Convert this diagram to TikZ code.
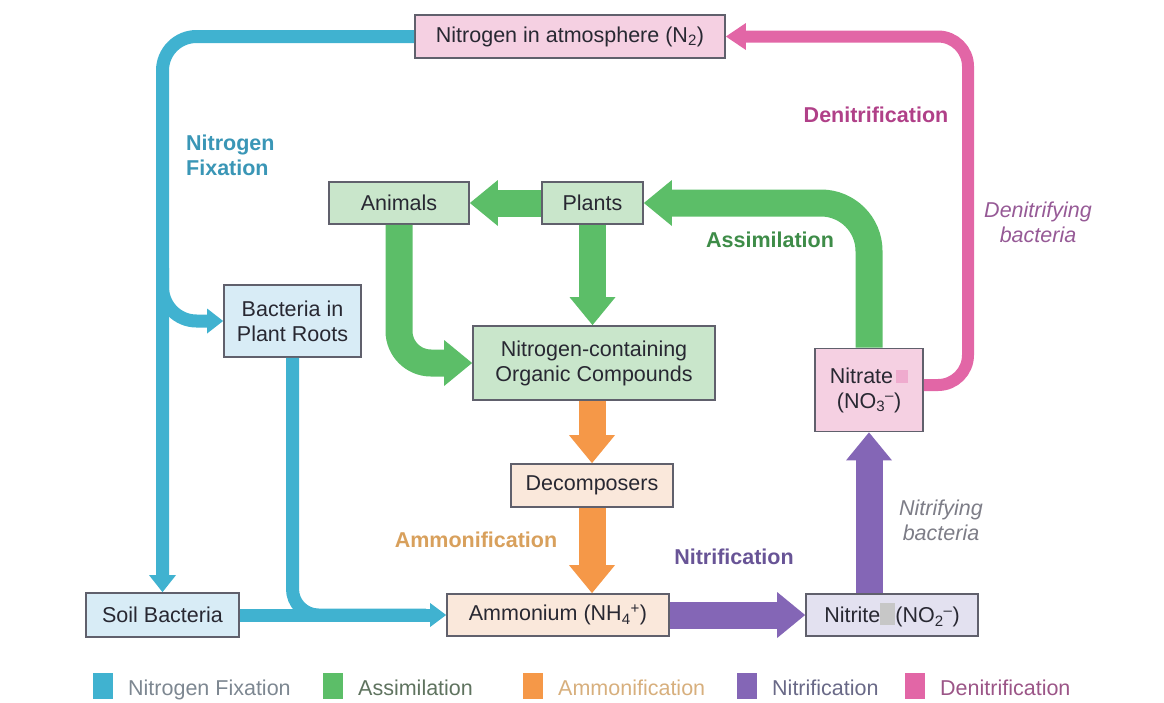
\documentclass[tikz,border=0pt]{standalone}
\usepackage{fontspec}
\setmainfont{Liberation Sans}
\usetikzlibrary{arrows.meta}
\definecolor{fixc}{RGB}{64,178,208}
\definecolor{assc}{RGB}{92,190,104}
\definecolor{ammc}{RGB}{245,152,72}
\definecolor{nitc}{RGB}{132,102,182}
\definecolor{denc}{RGB}{226,102,166}
\definecolor{pinkbox}{RGB}{245,208,226}
\definecolor{greenbox}{RGB}{201,230,203}
\definecolor{bluebox}{RGB}{216,236,246}
\definecolor{peachbox}{RGB}{250,232,219}
\definecolor{lilacbox}{RGB}{227,225,240}
\definecolor{boxline}{RGB}{96,96,108}
\definecolor{boxtxt}{RGB}{40,40,50}
\definecolor{fixlab}{RGB}{58,150,182}
\definecolor{denlab}{RGB}{176,64,136}
\definecolor{denital}{RGB}{150,90,150}
\definecolor{asslab}{RGB}{62,140,72}
\definecolor{ammlab}{RGB}{216,160,92}
\definecolor{nitlab}{RGB}{104,84,150}
\definecolor{nitital}{RGB}{125,125,135}
\definecolor{lgfix}{RGB}{125,135,145}
\definecolor{lgass}{RGB}{95,115,95}
\definecolor{lgamm}{RGB}{215,175,125}
\definecolor{lgnit}{RGB}{105,105,135}
\definecolor{lgden}{RGB}{155,85,135}
\begin{document}
\begin{tikzpicture}[x=1pt, y=-1pt, font=\fontsize{21.5}{25}\selectfont,
  box/.style={draw=boxline, line width=1.8pt, text=boxtxt, align=center, inner sep=0pt},
  fixline/.style={fixc, line width=13pt, rounded corners=34pt},
  denline/.style={denc, line width=12pt, rounded corners=30pt},
  bigarrow/.style={line width=27pt, rounded corners=42pt, -{Triangle[width=46pt, length=28pt, line width=0pt]}},
  lab/.style={font=\fontsize{21.5}{25}\selectfont\bfseries, inner sep=0pt, align=left},
  ital/.style={font=\fontsize{21.5}{25}\selectfont\itshape, inner sep=0pt, align=center}]
 \useasboundingbox (0,0) rectangle (1164,702);
 % boxes
 \node[box, fill=pinkbox, minimum width=310pt, minimum height=43pt] (n2) at (570,36.5) {Nitrogen in atmosphere (N\textsubscript{2})};
 \node[box, fill=greenbox, minimum width=140pt, minimum height=42pt] (animals) at (399,203) {Animals};
 \node[box, fill=greenbox, minimum width=101pt, minimum height=42pt] (plants) at (592.5,203) {Plants};
 \node[box, fill=bluebox, minimum width=137pt, minimum height=72pt] (roots) at (292.5,321) {Bacteria in\\Plant Roots};
 \node[box, fill=greenbox, minimum width=242pt, minimum height=74pt] (ncoc) at (594,363) {Nitrogen-containing\\Organic Compounds};
 \node[box, fill=pinkbox, minimum width=108pt, minimum height=83pt] (nitrate) at (869,390) {Nitrate\hspace{3pt}\textcolor{denc!55}{\rule{12pt}{13pt}}\\(NO\textsubscript{3}\textsuperscript{--})};
 \node[box, fill=peachbox, minimum width=162pt, minimum height=43pt] (decomp) at (592,485.5) {Decomposers};
 \node[box, fill=bluebox, minimum width=153pt, minimum height=44pt] (soil) at (162.5,615) {Soil Bacteria};
 \node[box, fill=peachbox, minimum width=222pt, minimum height=42pt] (ammon) at (558,615) {Ammonium (NH\textsubscript{4}\textsuperscript{+})};
 \node[box, fill=lilacbox, minimum width=172pt, minimum height=42pt] (nitrite) at (892,615) {Nitrite\textcolor{black!22}{\rule[-2pt]{15pt}{22pt}}(NO\textsubscript{2}\textsuperscript{--})};
 % nitrogen fixation
 \coordinate (fixsplit) at (162.5,268);
 \draw[fixline, -{Triangle[width=27pt, length=17pt, line width=0pt]}] (n2.west) -| (soil.north);
 \draw[fixline, -{Triangle[width=25pt, length=16pt, line width=0pt]}] (fixsplit) |- (roots.west);
 \draw[fixline, rounded corners=26pt, shorten >=20pt] (roots.south) |- (ammon.west);
 \draw[fixline, -{Triangle[width=24pt, length=16pt, line width=0pt]}] (soil.east) -- (ammon.west);
 % denitrification
 \coordinate (dencorner) at (968,36.5);
 \draw[denline, -{Triangle[width=27pt, length=20pt, line width=0pt]}] ([yshift=5pt]nitrate.east) -| (dencorner) -- (n2.east);
 % assimilation
 \draw[bigarrow, assc, rounded corners=48pt] (nitrate.north) |- (plants.east);
 \draw[bigarrow, assc] (plants.west) -- (animals.east);
 \draw[bigarrow, assc] (plants.south) -- (plants.south |- ncoc.north);
 \draw[bigarrow, assc, rounded corners=32pt] (animals.south) |- (ncoc.west);
 % ammonification
 \draw[bigarrow, ammc] (decomp.north |- ncoc.south) -- (decomp.north);
 \draw[bigarrow, ammc] (decomp.south) -- (decomp.south |- ammon.north);
 % nitrification
 \draw[bigarrow, nitc] (ammon.east) -- (nitrite.west);
 \draw[bigarrow, nitc] (nitrate.south |- nitrite.north) -- (nitrate.south);
 % labels
 \node[lab, text=fixlab, anchor=west] (fixlabel) at (186,155) {Nitrogen\\Fixation};
 \node[lab, text=denlab] (denlabel) at (876,115) {Denitrification};
 \node[ital, text=denital] (denbact) at (1038,222) {Denitrifying\\bacteria};
 \node[lab, text=asslab] (asslabel) at (770,240) {Assimilation};
 \node[lab, text=ammlab] (ammlabel) at (476,540) {Ammonification};
 \node[lab, text=nitlab] (nitlabel) at (734,557) {Nitrification};
 \node[ital, text=nitital] (nitbact) at (941,520) {Nitrifying\\bacteria};
 % legend
 \foreach \lx/\lc/\ltc/\lt in {93/fixc/lgfix/Nitrogen Fixation, 323/assc/lgass/Assimilation, 523/ammc/lgamm/Ammonification, 737/nitc/lgnit/Nitrification, 905/denc/lgden/Denitrification}{
   \fill[\lc] (\lx,673) rectangle ++(20,26);
   \node[anchor=base west, inner sep=0pt, text=\ltc] (leg\lx) at ({\lx+35},695) {\lt};
 }
\end{tikzpicture}
\end{document}
